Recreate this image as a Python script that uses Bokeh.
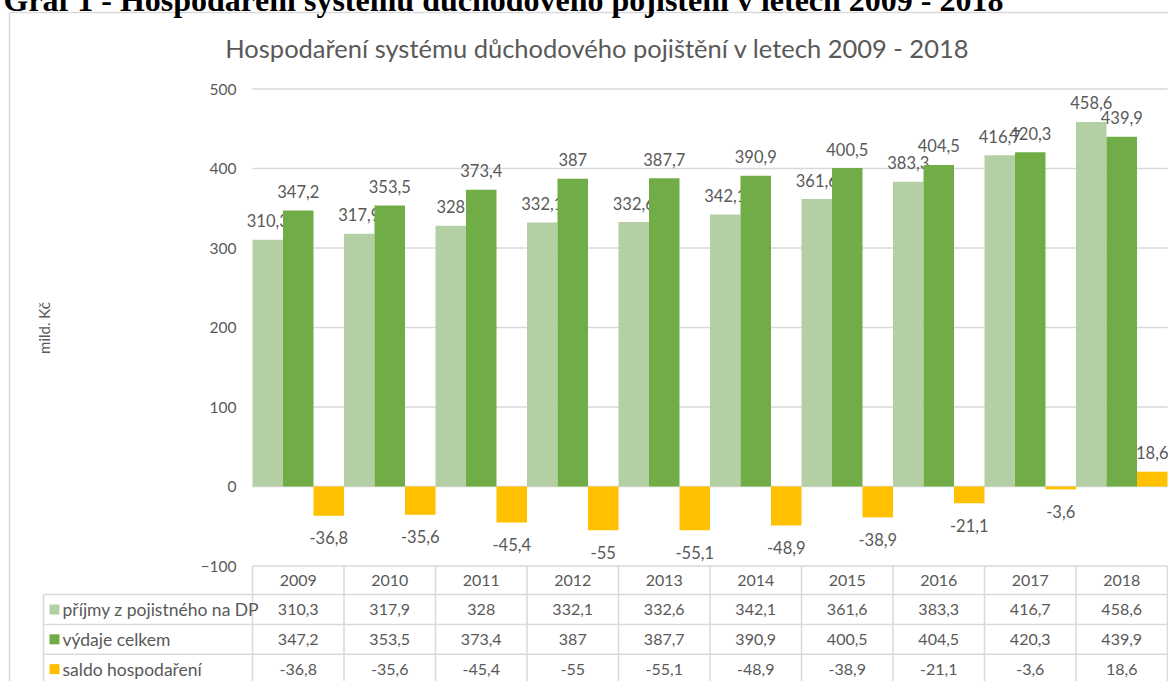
from bokeh.plotting import figure
from bokeh.models import ColumnDataSource, Range1d, FixedTicker
from bokeh.core.properties import value
from bokeh.embed import file_html
from bokeh.resources import INLINE

# ---------------- data ----------------
header = "Graf 1 - Hospodaření systému důchodového pojištění v letech 2009 - 2018"
title = "Hospodaření systému důchodového pojištění v letech 2009 - 2018"
y_label = "mild. Kč"
years = ["2009", "2010", "2011", "2012", "2013", "2014", "2015", "2016", "2017", "2018"]
series = ["příjmy z pojistného na DP", "výdaje celkem", "saldo hospodaření"]
prijmy = [310.3, 317.9, 328, 332.1, 332.6, 342.1, 361.6, 383.3, 416.7, 458.6]
vydaje = [347.2, 353.5, 373.4, 387, 387.7, 390.9, 400.5, 404.5, 420.3, 439.9]
saldo = [-36.8, -35.6, -45.4, -55, -55.1, -48.9, -38.9, -21.1, -3.6, 18.6]
colors = ["#B5CFA5", "#70AD47", "#FFC000"]
y_ticks = [-100, 0, 100, 200, 300, 400, 500]

# ---------------- layout helpers (page pixels -> data) ----------------
W, H = 1176, 689
OFF = 8                    # canvas origin sits at page (-8, -8)
PX0, PXW = 252.0, 91.5     # left edge of first category, category width
PY0, PPU = 486.0, 0.795    # pixel of y=0, pixels per unit


def X(px):
    return (px - PX0) / PXW


def Y(py):
    return (PY0 - py) / PPU


def fmt(v):
    return str(int(v)) if float(v).is_integer() else f"{v:.1f}".replace(".", ",")


TXT = "#595959"
GRID = "#D9D9D9"
FONT = value("Lato")

p = figure(width=W, height=H,
           x_range=Range1d(X(-OFF), X(W - OFF)), y_range=Range1d(Y(H - OFF), Y(-OFF)),
           output_backend="svg", toolbar_location=None, x_axis_type=None,
           y_axis_location="left", min_border=0, outline_line_color=None,
           background_fill_color="white", border_fill_color="white")
p.styles = {"margin-top": "-8px", "margin-left": "-8px"}
p.ygrid.grid_line_color = None

n = len(years)
data = [prijmy, vydaje, saldo]

# outer chart border (top and left)
p.segment(x0=[X(9), X(9)], y0=[Y(12), Y(12)], x1=[X(W), X(9)], y1=[Y(12), Y(H + 10)],
          line_color=GRID, line_width=1.5)

# horizontal grid lines within the plot area
p.segment(x0=[0] * len(y_ticks), x1=[n] * len(y_ticks), y0=y_ticks, y1=y_ticks,
          line_color=GRID, line_width=1.3)

# bars
for j, (vals, col) in enumerate(zip(data, colors)):
    xs = [i + (j + 0.5) / 3 for i in range(n)]
    src = ColumnDataSource(dict(x=xs, top=vals, lab=[fmt(v) for v in vals],
                                off=[-19 if v >= 0 else 22 for v in vals]))
    p.vbar(x="x", top="top", bottom=0, width=1 / 3, source=src,
           fill_color=col, line_color=None)
    p.text(x="x", y="top", text="lab", y_offset="off", source=src,
           text_align="center", text_baseline="middle", text_color=TXT,
           text_font=FONT, text_font_size="16.5px")

# y axis at the start of the plot area
ax = p.yaxis[0]
ax.fixed_location = 0
ax.ticker = FixedTicker(ticks=y_ticks)
ax.bounds = (y_ticks[0], y_ticks[-1])
ax.axis_line_color = None
ax.major_tick_line_color = None
ax.minor_tick_line_color = None
ax.major_tick_out = 0
ax.major_tick_in = 0
ax.major_label_standoff = 16
ax.major_label_text_font = "Lato"
ax.major_label_text_font_size = "15.5px"
ax.major_label_text_color = TXT
ax.axis_label = y_label
ax.axis_label_standoff = 145
ax.axis_label_text_font = "Lato"
ax.axis_label_text_font_style = "normal"
ax.axis_label_text_font_size = "15px"
ax.axis_label_text_color = TXT

# data table below the chart
HH, RH = 36, 37.5
rows = [y_ticks[0] - HH - k * RH for k in range(4)]
p.segment(x0=list(range(n + 1)), x1=list(range(n + 1)), y0=[y_ticks[0]] * (n + 1),
          y1=[rows[-1]] * (n + 1), line_color=GRID, line_width=1.5)
p.segment(x0=[X(43)] * 4, x1=[n] * 4, y0=rows, y1=rows, line_color=GRID, line_width=1.5)
p.segment(x0=[X(43)], x1=[X(43)], y0=[rows[0]], y1=[rows[-1]], line_color=GRID, line_width=1.5)

p.text(x=[i + 0.5 for i in range(n)], y=[y_ticks[0] - HH / 2] * n, text=years,
       text_align="center", text_baseline="middle", text_color=TXT,
       text_font=FONT, text_font_size="16px")
for k, vals in enumerate(data):
    yc = rows[k] - RH / 2
    p.text(x=[i + 0.5 for i in range(n)], y=[yc] * n, text=[fmt(v) for v in vals],
           text_align="center", text_baseline="middle", text_color=TXT,
           text_font=FONT, text_font_size="16px")
    p.scatter(x=[X(54)], y=[yc], marker="square", size=10, fill_color=colors[k], line_color=None)
    p.text(x=[X(62)], y=[yc], text=[series[k]], text_align="left", text_baseline="middle",
           text_color=TXT, text_font=FONT, text_font_size="17.5px")

# chart title and document header (the header is cut by the top of the page)
p.text(x=[X(597)], y=[Y(47)], text=[title], text_align="center", text_baseline="middle",
       text_color=TXT, text_font=FONT, text_font_size="25.5px")
p.text(x=[X(3)], y=[Y(-1)], text=[header], text_align="left", text_baseline="middle",
       text_color="black", text_font=value("Liberation Serif"), text_font_style="bold",
       text_font_size="32px")

open("out.html", "w").write(file_html(p, INLINE))
